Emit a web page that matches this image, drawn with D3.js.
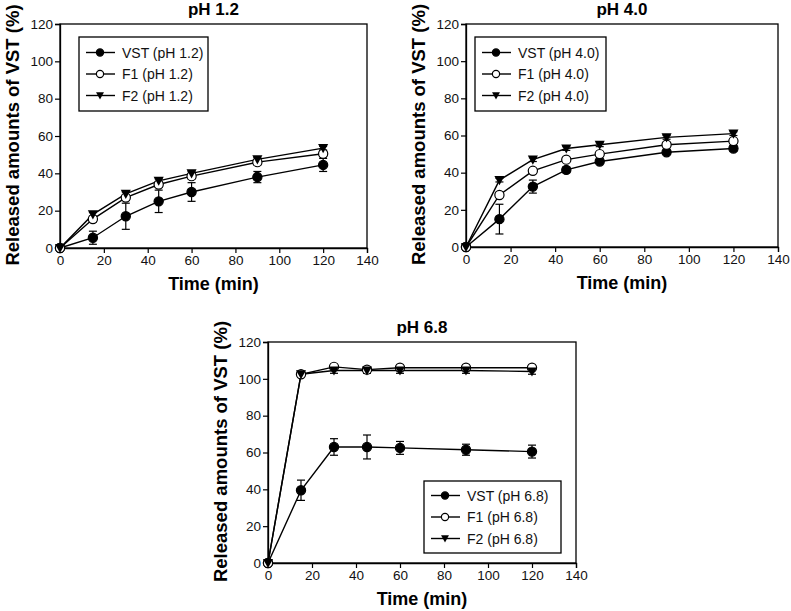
<!DOCTYPE html>
<html>
<head>
<meta charset="utf-8">
<script src="https://cdn.jsdelivr.net/npm/d3@7"></script>
<style>
  body { margin: 0; background: #fff; }
  svg { font-family: "Liberation Sans", Arial, sans-serif; }
</style>
</head>
<body>
<svg width="791" height="611"></svg>
<script>
const times = [0, 15, 30, 45, 60, 90, 120];
const xTicks = [0, 20, 40, 60, 80, 100, 120, 140];
const yTicks = [0, 20, 40, 60, 80, 100, 120];

// pH 1.2
const vst12 = [0, 5.5, 17, 25, 30, 38, 44.5];
const vst12Err = [0, 3.5, 7, 6, 5, 3, 3.5];
const f1_12 = [0, 15.5, 27, 34, 38.5, 46, 50.5];
const f1_12Err = [0, 1.5, 1.5, 1.5, 1.5, 1.5, 1.5];
const f2_12 = [0, 18, 29, 36, 40, 47.5, 53.5];
const f2_12Err = [0, 1, 1, 1, 1, 1, 1];

// pH 4.0
const vst40 = [0, 15, 32.5, 41.5, 46, 51, 53];
const vst40Err = [0, 8, 3.5, 1.5, 1, 1, 1.5];
const f1_40 = [0, 28, 41, 47, 50, 55, 57];
const f1_40Err = [0, 1, 1, 1, 1, 1, 1];
const f2_40 = [0, 36, 47, 53, 55, 59, 61];
const f2_40Err = [0, 1, 1, 1, 1, 1, 1];

// pH 6.8
const vst68 = [0, 39.5, 63, 63, 62.5, 61.5, 60.5];
const vst68Err = [0, 5.5, 4.5, 6.5, 3.5, 3, 3.5];
const f1_68 = [0, 102.5, 106.5, 105, 106, 106, 106];
const f1_68Err = [0, 1, 1, 1, 1, 1, 1];
const f2_68 = [0, 102.5, 104.5, 104.5, 104.5, 104.5, 104];
const f2_68Err = [0, 1, 1.5, 1.5, 1.5, 1.5, 1.5];

const panels = [
  { title: "pH 1.2", ph: "1.2", box: [60, 24, 367, 248], legend: [79, 37, 208, 111],
    series: [[vst12, vst12Err], [f1_12, f1_12Err], [f2_12, f2_12Err]] },
  { title: "pH 4.0", ph: "4.0", box: [466, 24, 778, 247], legend: [475, 37, 606, 111],
    series: [[vst40, vst40Err], [f1_40, f1_40Err], [f2_40, f2_40Err]] },
  { title: "pH 6.8", ph: "6.8", box: [268, 342, 576, 563], legend: [424, 481, 561, 553],
    series: [[vst68, vst68Err], [f1_68, f1_68Err], [f2_68, f2_68Err]] }
];
const names = ["VST", "F1", "F2"];
const markers = ["dot", "open", "tri"];

const svg = d3.select("svg");

const drawMarker = (g, type, x, y, r) => {
  if (type === "tri") {
    const s = r * 1.1;
    g.append("path")
      .attr("d", `M${x - s},${y - s * 0.8}L${x + s},${y - s * 0.8}L${x},${y + s}Z`)
      .attr("fill", "#000");
  } else {
    g.append("circle").attr("cx", x).attr("cy", y).attr("r", r)
      .attr("fill", type === "open" ? "#fff" : "#000")
      .attr("stroke", "#000").attr("stroke-width", 1.2);
  }
};

panels.forEach((p) => {
  const [x0, y0, x1, y1] = p.box;
  const x = d3.scaleLinear().domain([0, 140]).range([x0, x1]);
  const y = d3.scaleLinear().domain([0, 120]).range([y1, y0]);
  const g = svg.append("g");

  g.append("rect").attr("x", x0).attr("y", y0)
    .attr("width", x1 - x0).attr("height", y1 - y0)
    .attr("fill", "none").attr("stroke", "#000").attr("stroke-width", 1.3);

  const xa = g.append("g").attr("transform", `translate(0,${y1})`)
    .call(d3.axisBottom(x).tickValues(xTicks).tickSize(5).tickPadding(2));
  const ya = g.append("g").attr("transform", `translate(${x0},0)`)
    .call(d3.axisLeft(y).tickValues(yTicks).tickSize(5).tickPadding(2));
  [xa, ya].forEach((a) => {
    a.select(".domain").attr("stroke-width", 1.3);
    a.selectAll("line").attr("stroke-width", 1.2);
    a.selectAll("text").attr("font-size", 13.5).attr("fill", "#111")
      .attr("font-family", "Liberation Sans, Arial, sans-serif");
  });

  g.append("text").attr("x", (x0 + x1) / 2).attr("y", y0 - 9)
    .attr("text-anchor", "middle").attr("font-weight", "bold").attr("font-size", 17)
    .text(p.title);
  g.append("text").attr("x", (x0 + x1) / 2).attr("y", y1 + 42)
    .attr("text-anchor", "middle").attr("font-weight", "bold").attr("font-size", 18)
    .text("Time (min)");
  g.append("text")
    .attr("transform", `translate(${x0 - 41},${(y0 + y1) / 2 - 1}) rotate(-90)`)
    .attr("text-anchor", "middle").attr("font-weight", "bold").attr("font-size", 18.5)
    .text("Released amounts of VST (%)");

  const line = d3.line().x((d, i) => x(times[i])).y((d) => y(d));

  p.series.forEach(([vals]) => {
    g.append("path").datum(vals).attr("d", line)
      .attr("fill", "none").attr("stroke", "#000").attr("stroke-width", 1.4);
  });
  p.series.forEach(([vals, errs]) => {
    vals.forEach((v, i) => {
      if (errs[i] > 0) {
        const cx = x(times[i]);
        g.append("line").attr("x1", cx).attr("x2", cx)
          .attr("y1", y(v - errs[i])).attr("y2", y(v + errs[i]))
          .attr("stroke", "#000").attr("stroke-width", 1.2);
        [v - errs[i], v + errs[i]].forEach((e) => {
          g.append("line").attr("x1", cx - 4).attr("x2", cx + 4)
            .attr("y1", y(e)).attr("y2", y(e))
            .attr("stroke", "#000").attr("stroke-width", 1.2);
        });
      }
    });
  });
  p.series.forEach(([vals], si) => {
    vals.forEach((v, i) => drawMarker(g, markers[si], x(times[i]), y(v), 4.6));
  });

  // legend
  const [lx0, ly0, lx1, ly1] = p.legend;
  g.append("rect").attr("x", lx0).attr("y", ly0)
    .attr("width", lx1 - lx0).attr("height", ly1 - ly0)
    .attr("fill", "#fff").attr("stroke", "#000").attr("stroke-width", 1.3);
  const step = 21.5;
  const first = ly0 + (ly1 - ly0 - 2 * step) / 2;
  names.forEach((n, i) => {
    const ly = first + step * i;
    g.append("line").attr("x1", lx0 + 7).attr("x2", lx0 + 36)
      .attr("y1", ly).attr("y2", ly).attr("stroke", "#000").attr("stroke-width", 1.4);
    drawMarker(g, markers[i], lx0 + 21, ly, 3.6);
    g.append("text").attr("x", lx0 + 43).attr("y", ly + 5)
      .attr("font-size", 14).attr("fill", "#111").text(`${n} (pH ${p.ph})`);
  });
});
</script>
</body>
</html>
